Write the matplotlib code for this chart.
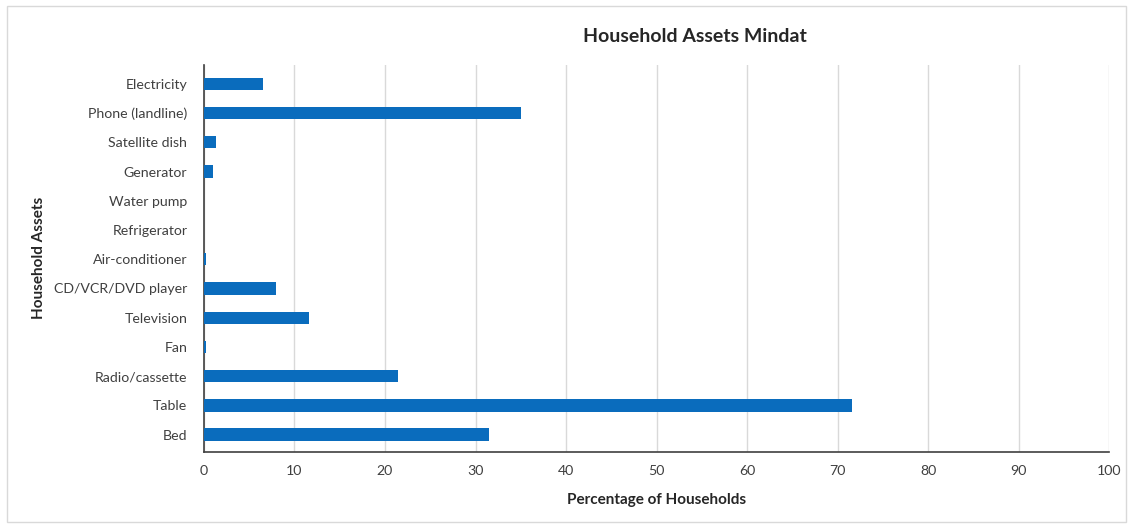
import matplotlib
matplotlib.use("Agg")
import matplotlib.pyplot as plt
from matplotlib.patches import Rectangle

plt.rcParams['font.family'] = ['Lato', 'DejaVu Sans']

# Household asset ownership, top to bottom as listed on the chart
assets = [
    "Electricity", "Phone (landline)", "Satellite dish", "Generator",
    "Water pump", "Refrigerator", "Air-conditioner", "CD/VCR/DVD player",
    "Television", "Fan", "Radio/cassette", "Table", "Bed",
]
percent = [6.5, 35.0, 1.3, 1.0, 0.0, 0.0, 0.2, 8.0, 11.6, 0.2, 21.4, 71.6, 31.5]
x_ticks = list(range(0, 101, 10))

fig = plt.figure(figsize=(11.33, 5.27), dpi=100)
fig.patches.append(Rectangle((0.006, 0.01), 0.988, 0.978, transform=fig.transFigure,
                             fill=False, edgecolor="#d9d9d9", linewidth=1))

ax = fig.add_axes([0.180, 0.142, 0.799, 0.735])
y = list(range(len(assets)))[::-1]
ax.barh(y, percent, height=0.42, color="#0a6cbd", zorder=3)

ax.set_xlim(0, 100)
ax.set_ylim(-0.6, len(assets) - 0.35)
ax.set_xticks(x_ticks)
ax.set_yticks(y)
ax.set_yticklabels(assets)
ax.tick_params(axis="both", length=0, labelsize=10.2, colors="#404040")
ax.tick_params(axis="x", pad=9)
ax.tick_params(axis="y", pad=12)
ax.grid(axis="x", color="#d9d9d9", linewidth=1, zorder=0)

for side in ("top", "right"):
    ax.spines[side].set_visible(False)
ax.spines["left"].set_color("#404040")
ax.spines["bottom"].set_color("#404040")
ax.spines["left"].set_linewidth(1.2)
ax.spines["bottom"].set_linewidth(1.2)

ax.set_xlabel("Percentage of Households", fontsize=11, fontweight="bold",
              color="#262626", labelpad=12)
fig.text(0.034, 0.51, "Household Assets", rotation=90, fontsize=11,
         fontweight="bold", color="#262626", ha="center", va="center")
fig.text(0.613, 0.93, "Household Assets Mindat", fontsize=14, fontweight="bold",
         color="#262626", ha="center", va="center")

fig.savefig("out.png", dpi=100, facecolor="white")
